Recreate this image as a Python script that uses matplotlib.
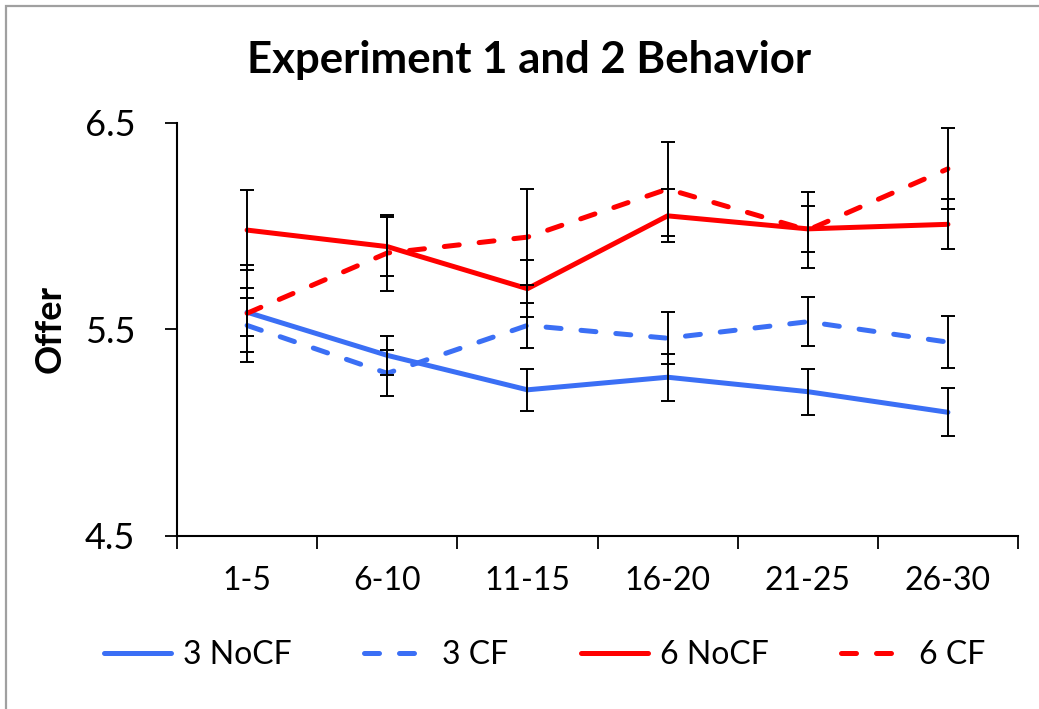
import matplotlib
matplotlib.use("Agg")
import matplotlib.pyplot as plt
from matplotlib.patches import Rectangle
import numpy as np

plt.rcParams['font.family'] = ['Lato', 'DejaVu Sans']

categories = ["1-5", "6-10", "11-15", "16-20", "21-25", "26-30"]
series_names = ["3 NoCF", "3 CF", "6 NoCF", "6 CF"]
nocf3 = [5.583, 5.374, 5.207, 5.268, 5.198, 5.098]
nocf3_err = [0.117, 0.095, 0.102, 0.113, 0.112, 0.117]
cf3 = [5.519, 5.287, 5.519, 5.457, 5.537, 5.438]
cf3_err = [0.131, 0.111, 0.108, 0.126, 0.120, 0.126]
nocf6 = [5.981, 5.901, 5.697, 6.050, 5.987, 6.009]
nocf6_err = [0.194, 0.144, 0.138, 0.129, 0.112, 0.122]
cf6 = [5.578, 5.870, 5.947, 6.180, 5.981, 6.278]
cf6_err = [0.236, 0.186, 0.232, 0.229, 0.183, 0.196]

values = [nocf3, cf3, nocf6, cf6]
errors = [nocf3_err, cf3_err, nocf6_err, cf6_err]
colors = ["#3b6ff5", "#3b6ff5", "#ff0000", "#ff0000"]
styles = ["solid", "dashed", "solid", "dashed"]

W, H = 1039, 709
fig = plt.figure(figsize=(W / 100, H / 100), dpi=100)
ax = fig.add_axes([177 / W, 1 - 535.7 / H, (1018 - 177) / W, (535.7 - 123) / H])

x = np.arange(len(categories)) + 0.5
lw = 3.6
handles = []
for v, e, c, s, n in zip(values, errors, colors, styles, series_names):
    line, = ax.plot(x, v, color=c, lw=lw, solid_capstyle='round',
                    dash_capstyle='round', solid_joinstyle='round', label=n, zorder=3)
    if s == "dashed":
        line.set_dashes((3, 4))
    handles.append(line)
    ax.errorbar(x, v, yerr=e, fmt='none', ecolor='black', elinewidth=1.4,
                capsize=5, capthick=1.4, zorder=4)

ax.set_xlim(0, len(categories))
ax.set_ylim(4.5, 6.5)
ax.set_yticks([4.5, 5.5, 6.5])
ax.set_yticklabels(["4.5", "5.5", "6.5"], fontsize=26)
ax.set_xticks(np.arange(len(categories) + 1))
ax.set_xticklabels([])
ax.set_xticks(x, minor=True)
ax.set_xticklabels(categories, minor=True, fontsize=23)
ax.tick_params(axis='x', which='minor', length=0, pad=22)
ax.tick_params(axis='x', which='major', length=9, width=1.3, direction='out')
ax.tick_params(axis='y', length=9, width=1.3, direction='out', pad=21)
for sp in ['top', 'right']:
    ax.spines[sp].set_visible(False)
for sp in ['left', 'bottom']:
    ax.spines[sp].set_linewidth(1.5)
    ax.spines[sp].set_color('black')

fig.text(50 / W, 1 - 329 / H, "Offer", fontsize=26, fontweight='bold',
         rotation=90, ha='center', va='center')

fig.text(529 / W, 1 - 60 / H, "Experiment 1 and 2 Behavior", fontsize=31.5,
         fontweight='bold', ha='center', va='center')

leg = fig.legend(handles=handles, labels=series_names, loc='center',
                 bbox_to_anchor=(545 / W, 1 - 655 / H), ncol=4, frameon=False,
                 fontsize=23, handlelength=2.1, handletextpad=0.35,
                 columnspacing=2.28)

fig.patches.append(Rectangle((6 / W, -0.1), 1.2, 1.1 - 6 / H, transform=fig.transFigure,
                             fill=False, edgecolor='#a0a0a0', lw=1.6, figure=fig))

fig.savefig("out.png", dpi=100)
